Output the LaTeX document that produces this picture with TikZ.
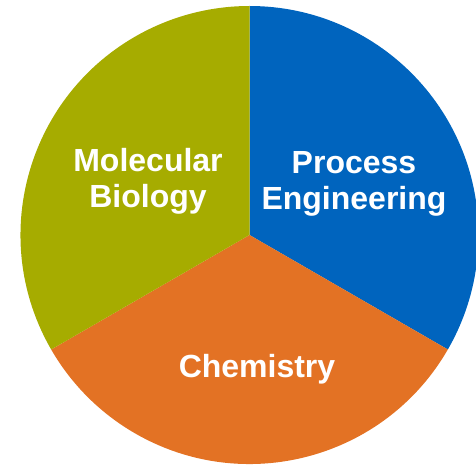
\documentclass[tikz,border=0pt]{standalone}
\usepackage{fontspec}
\setmainfont{Liberation Sans}
\definecolor{pgreen}{HTML}{A6AC00}
\definecolor{pblue}{HTML}{0064BE}
\definecolor{porange}{HTML}{E37224}
\begin{document}
\begin{tikzpicture}[x=1pt,y=1pt,
  lab/.style={text=white,font=\fontsize{32}{36}\selectfont\bfseries,align=center}]
\useasboundingbox (0,0) rectangle (476,464);
\coordinate (c) at (249.5,229);
\fill[pblue] (c) -- ++(90:229) arc[start angle=90,end angle=-30,radius=229] -- cycle;
\fill[porange] (c) -- ++(-30:229) arc[start angle=-30,end angle=-150,radius=229] -- cycle;
\fill[pgreen] (c) -- ++(210:229) arc[start angle=210,end angle=90,radius=229] -- cycle;
\node[lab] (mb) at (148,283) {Molecular\\Biology};
\node[lab] (pe) at (354,280) {Process\\Engineering};
\node[lab] (ch) at (257,95) {Chemistry};
\end{tikzpicture}
\end{document}
